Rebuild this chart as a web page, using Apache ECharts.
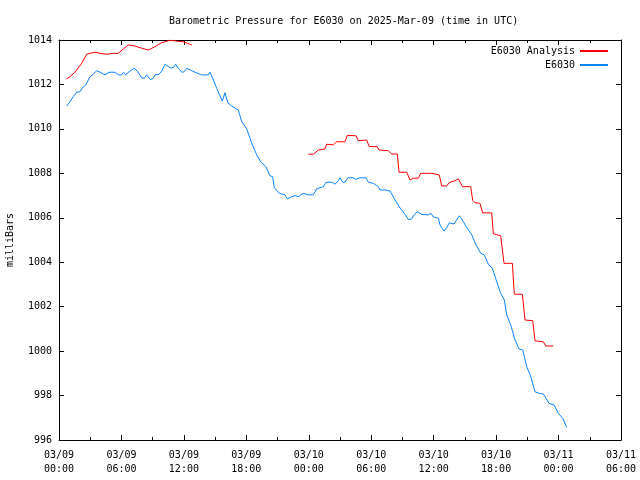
<!DOCTYPE html>
<html>
<head>
<meta charset="utf-8">
<script src="https://cdn.jsdelivr.net/npm/echarts@6/dist/echarts.min.js"></script>
<style>html,body{margin:0;padding:0;background:#fff}#c{width:640px;height:480px}</style>
</head>
<body>
<div id="c"></div>
<script>
// Hours since 2025-03-09 00:00 UTC
const obsHours = [0.74,1.06,1.37,1.70,2.02,2.24,2.57,2.82,2.98,3.30,3.62,3.94,4.42,4.80,5.38,5.70,6.02,6.18,6.41,6.73,7.21,7.52,7.95,8.20,8.43,8.74,9.00,9.22,9.61,9.87,10.19,10.67,10.98,11.21,11.46,11.79,12.04,12.27,12.75,13.07,13.71,14.35,14.51,14.83,15.15,15.69,15.95,16.21,16.59,17.23,17.56,18.04,18.52,19.00,19.41,19.89,20.27,20.53,20.69,21.17,21.72,21.94,22.36,22.68,22.99,23.47,23.96,24.44,24.76,25.40,25.66,26.26,26.52,26.84,27.00,27.26,27.48,27.74,28.28,28.51,28.92,29.50,29.72,30.20,30.68,30.84,31.33,31.81,32.29,32.77,33.18,33.54,33.87,34.11,34.43,34.88,35.49,35.74,35.97,36.45,36.61,36.99,37.25,37.50,37.96,38.46,38.87,39.18,39.66,40.07,40.52,40.87,41.25,41.64,42.06,42.44,42.79,43.02,43.40,43.82,44.20,44.56,44.94,45.33,45.74,46.15,46.54,47.08,47.56,47.98,48.40,48.78];
const obsPressure = [1011.03,1011.22,1011.45,1011.65,1011.67,1011.85,1011.97,1012.20,1012.35,1012.46,1012.62,1012.55,1012.43,1012.55,1012.55,1012.43,1012.43,1012.55,1012.43,1012.57,1012.73,1012.60,1012.30,1012.28,1012.43,1012.23,1012.25,1012.43,1012.46,1012.60,1012.91,1012.75,1012.75,1012.91,1012.73,1012.55,1012.57,1012.73,1012.62,1012.55,1012.43,1012.43,1012.55,1012.20,1011.83,1011.25,1011.63,1011.18,1011.03,1010.85,1010.32,1010.00,1009.35,1008.83,1008.50,1008.30,1007.89,1007.85,1007.35,1007.10,1007.03,1006.85,1006.95,1007.00,1006.95,1007.10,1007.03,1007.03,1007.30,1007.40,1007.60,1007.60,1007.51,1007.67,1007.80,1007.60,1007.60,1007.80,1007.80,1007.73,1007.80,1007.80,1007.60,1007.55,1007.40,1007.25,1007.25,1007.20,1006.80,1006.44,1006.20,1005.93,1005.94,1006.13,1006.27,1006.15,1006.13,1006.20,1006.04,1005.98,1005.68,1005.40,1005.55,1005.77,1005.72,1006.09,1005.81,1005.56,1005.23,1004.78,1004.40,1004.33,1003.91,1003.73,1003.12,1002.60,1002.30,1001.63,1001.18,1000.50,1000.10,1000.05,999.30,998.85,998.17,998.10,998.07,997.65,997.58,997.20,996.98,996.57];

const anaHours = [0.74,1.06,1.54,2.18,2.66,2.98,3.46,3.94,4.58,5.22,5.70,6.18,6.66,7.30,7.95,8.58,9.22,9.87,10.67,11.31,11.94,12.37,12.75,
  18.0,
  23.96,24.44,24.92,25.56,25.72,26.36,26.68,27.48,27.70,28.54,28.76,28.92,29.57,29.79,30.56,30.75,31.64,31.97,32.51,32.67,33.41,33.73,34.04,34.52,34.76,35.81,35.97,36.54,36.77,37.25,37.50,38.05,38.37,38.77,39.56,39.75,39.97,40.45,40.71,41.58,41.73,42.44,42.76,43.56,43.75,44.52,44.78,45.52,45.74,46.54,46.77,47.50];
const anaPressure = [1012.25,1012.35,1012.55,1012.95,1013.36,1013.40,1013.45,1013.40,1013.36,1013.40,1013.40,1013.60,1013.78,1013.73,1013.63,1013.55,1013.70,1013.88,1013.99,1013.95,1013.92,1013.85,1013.78,
  null,
  1008.86,1008.86,1009.05,1009.10,1009.31,1009.28,1009.42,1009.42,1009.71,1009.69,1009.47,1009.54,1009.50,1009.21,1009.20,1009.05,1009.02,1008.87,1008.87,1008.05,1008.05,1007.70,1007.78,1007.78,1008.00,1008.00,1007.93,1007.93,1007.43,1007.43,1007.59,1007.67,1007.75,1007.40,1007.40,1006.78,1006.68,1006.65,1006.22,1006.22,1005.28,1005.19,1003.95,1003.95,1002.56,1002.56,1001.40,1001.37,1000.46,1000.42,1000.23,1000.23];

const xMin = 0, xMax = 54, xStep = 6;
const yMin = 996, yMax = 1014, yStep = 2;
const titleText = 'Barometric Pressure for E6030 on 2025-Mar-09 (time in UTC)';
const yName = 'milliBars';
const seriesNames = ['E6030 Analysis', 'E6030'];

const FONT = '"DejaVu Sans Mono", "Liberation Mono", monospace';
const pad = n => (n < 10 ? '0' : '') + n;
function xLabel(h) {
  const day = 9 + Math.floor(h / 24);
  const hr = Math.round(h % 24);
  return '03/' + pad(day) + '\n' + pad(hr) + ':00';
}
const pairs = (xs, ys) => xs.map((x, i) => [x, ys[i] == null ? '-' : ys[i]]);

const chart = echarts.init(document.getElementById('c'), null, {renderer: 'canvas'});
const axisCommon = {
  type: 'value', min: xMin, max: xMax, interval: xStep,
  axisLine: {show: true, onZero: false, lineStyle: {color: '#000', width: 1}},
  axisTick: {show: true, inside: true, length: 5, lineStyle: {color: '#000'}},
  minorTick: {show: true, splitNumber: 2, length: 3, lineStyle: {color: '#000'}},
  splitLine: {show: false}
};
chart.setOption({
  animation: false,
  backgroundColor: '#fff',
  title: {
    text: titleText, left: 164, top: 11,
    textStyle: {fontFamily: FONT, fontSize: 10, fontWeight: 'normal', color: '#000'}
  },
  legend: {
    orient: 'vertical', right: 27, top: 41, align: 'right', itemGap: 4,
    itemWidth: 28, itemHeight: 2, icon: 'rect',
    textStyle: {fontFamily: FONT, fontSize: 10, color: '#000'},
    data: seriesNames
  },
  grid: {left: 59, right: 19, top: 40, bottom: 40, containLabel: false, outerBoundsMode: 'none'},
  xAxis: [
    Object.assign({}, axisCommon, {
      position: 'bottom',
      axisLabel: {fontFamily: FONT, fontSize: 10, color: '#000', margin: 8, lineHeight: 14,
        formatter: v => xLabel(v)}
    }),
    Object.assign({}, axisCommon, {position: 'top', axisLabel: {show: false}})
  ],
  yAxis: [
    {
      type: 'value', min: yMin, max: yMax, interval: yStep, position: 'left',
      name: yName, nameLocation: 'middle', nameGap: 44, nameRotate: 90,
      nameTextStyle: {fontFamily: FONT, fontSize: 10, color: '#000'},
      axisLine: {show: true, onZero: false, lineStyle: {color: '#000'}},
      axisTick: {show: true, inside: true, length: 5, lineStyle: {color: '#000'}},
      axisLabel: {fontFamily: FONT, fontSize: 10, color: '#000', margin: 7,
        formatter: v => String(v)},
      splitLine: {show: false}
    },
    {
      type: 'value', min: yMin, max: yMax, interval: yStep, position: 'right',
      axisLine: {show: true, onZero: false, lineStyle: {color: '#000'}},
      axisTick: {show: true, inside: true, length: 5, lineStyle: {color: '#000'}},
      axisLabel: {show: false},
      splitLine: {show: false}
    }
  ],
  series: [
    {
      name: seriesNames[0], type: 'line', xAxisIndex: 0, yAxisIndex: 0,
      data: pairs(anaHours, anaPressure), showSymbol: false, symbol: 'none',
      connectNulls: false, color: '#ff0000',
      lineStyle: {color: '#ff0000', width: 1}
    },
    {
      name: seriesNames[1], type: 'line', xAxisIndex: 0, yAxisIndex: 0,
      data: pairs(obsHours, obsPressure), showSymbol: false, symbol: 'none',
      color: '#0a84ff',
      lineStyle: {color: '#0a84ff', width: 1}
    }
  ]
});
</script>
</body>
</html>
